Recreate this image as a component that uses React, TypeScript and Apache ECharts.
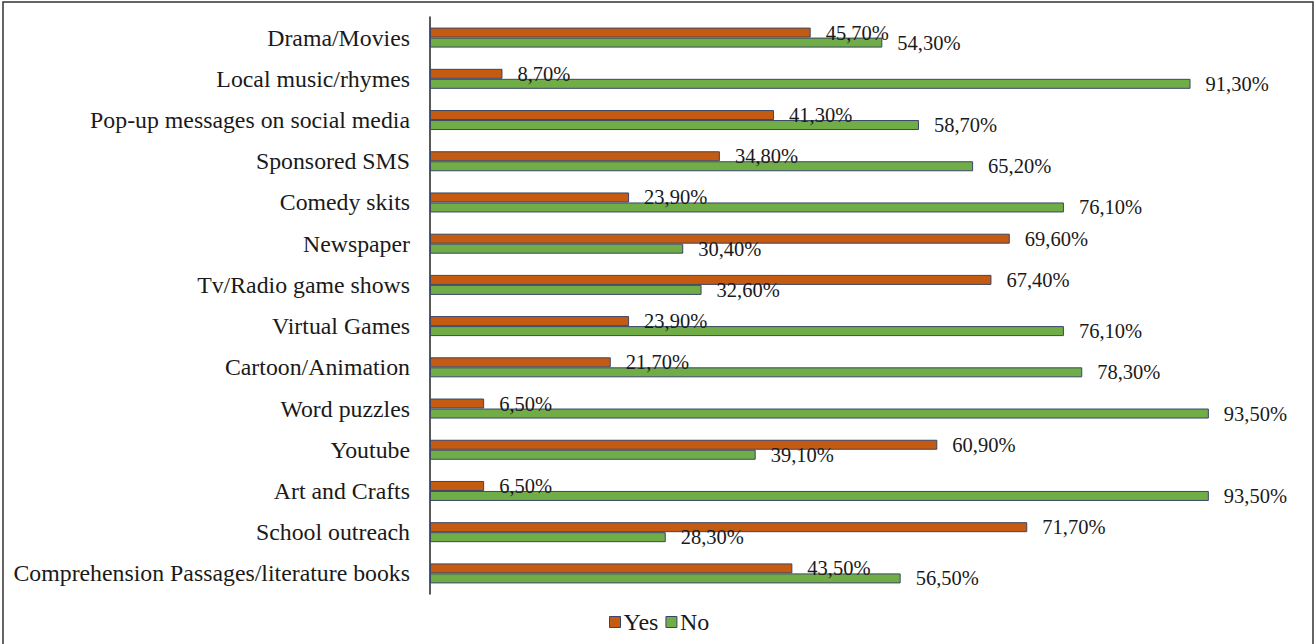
import React, { useEffect, useRef } from "react";
import * as echarts from "echarts";

const categories = [
  "Drama/Movies",
  "Local music/rhymes",
  "Pop-up messages on social media",
  "Sponsored SMS",
  "Comedy skits",
  "Newspaper",
  "Tv/Radio game shows",
  "Virtual Games",
  "Cartoon/Animation",
  "Word puzzles",
  "Youtube",
  "Art and Crafts",
  "School outreach",
  "Comprehension Passages/literature books",
];
const yesValues = [45.7, 8.7, 41.3, 34.8, 23.9, 69.6, 67.4, 23.9, 21.7, 6.5, 60.9, 6.5, 71.7, 43.5];
const noValues = [54.3, 91.3, 58.7, 65.2, 76.1, 30.4, 32.6, 76.1, 78.3, 93.5, 39.1, 93.5, 28.3, 56.5];

const FONT = "'Liberation Serif', 'Times New Roman', serif";
const fmt = (v: number) => v.toFixed(2).replace(".", ",") + "%";

export default function App() {
  const ref = useRef<HTMLDivElement>(null);
  useEffect(() => {
    if (!ref.current) return;
    const chart = echarts.init(ref.current, undefined, { renderer: "svg" });
    const label = {
      show: true,
      position: "right" as const,
      distance: 15,
      fontFamily: FONT,
      fontSize: 20.5,
      color: "#1a1a1a",
      formatter: (p: any) => fmt(p.value),
    };
    chart.setOption({
      animation: false,
      backgroundColor: "#fff",
      graphic: [
        {
          type: "rect",
          shape: { x: 3, y: 2, width: 1310, height: 660 },
          style: { fill: "none", stroke: "#333", lineWidth: 1.5 },
          silent: true,
        },
      ],
      grid: { left: 430, right: 53, top: 17, bottom: 50, containLabel: false },
      legend: {
        bottom: 5,
        left: 604,
        data: ["Yes", "No"],
        icon: "rect",
        itemWidth: 11,
        itemHeight: 11,
        itemGap: 7,
        itemStyle: { borderColor: "#3A4668", borderWidth: 1 },
        textStyle: { fontFamily: FONT, fontSize: 24, color: "#1a1a1a", padding: [0, 0, 0, -2] },
      },
      xAxis: {
        type: "value",
        min: 0,
        max: 100,
        show: false,
      },
      yAxis: {
        type: "category",
        data: categories,
        inverse: true,
        axisLine: { show: true, lineStyle: { color: "#222", width: 1.5 } },
        axisTick: { show: false },
        axisLabel: { fontFamily: FONT, fontSize: 23.8, color: "#1a1a1a", margin: 20 },
      },
      series: [
        {
          name: "Yes",
          type: "bar",
          data: yesValues,
          barWidth: 10,
          barGap: "0%",
          itemStyle: { color: "#C55A11", borderColor: "#3A4668", borderWidth: 1 },
          label,
        },
        {
          name: "No",
          type: "bar",
          data: noValues,
          barWidth: 10,
          barGap: "0%",
          itemStyle: { color: "#70AD47", borderColor: "#3A4668", borderWidth: 1 },
          label,
        },
      ],
    });
    return () => chart.dispose();
  }, []);
  return (
    <div
      ref={ref}
      style={{ position: "fixed", left: 0, top: 0, width: 1316, height: 644, background: "#fff" }}
    />
  );
}
